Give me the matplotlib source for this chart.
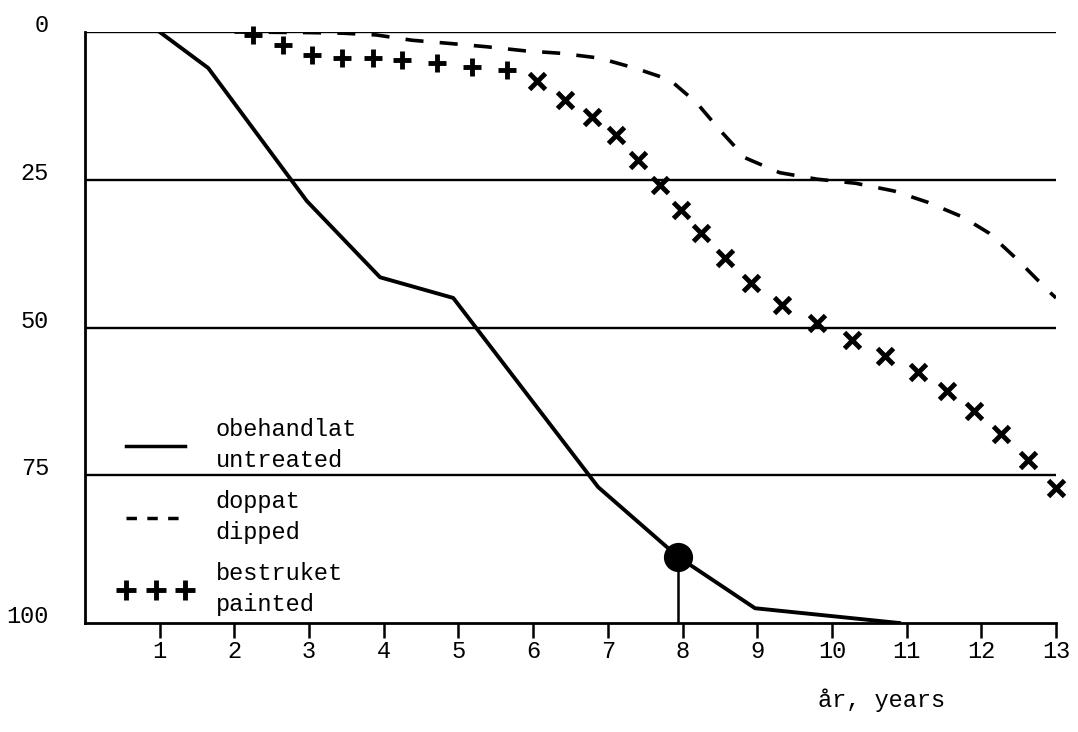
import matplotlib
matplotlib.use("Agg")
import matplotlib.pyplot as plt
from matplotlib.lines import Line2D

plt.rcParams['font.family'] = ['Liberation Mono', 'DejaVu Sans Mono']

# ---- data (years, % destroyed) ----
untreated_x = [1.0, 1.65, 2.97, 3.95, 4.93, 6.87, 7.94, 8.97, 10.9]
untreated_y = [0.0, 6.1, 28.6, 41.5, 45.0, 77.0, 88.8, 97.5, 100.0]

dipped_x = [2.0, 3.0, 3.45, 3.9, 4.38, 4.85, 5.38, 5.9, 6.37, 6.88, 7.36, 7.83,
            8.19, 8.5, 8.84, 9.3, 9.8, 10.32, 10.83, 11.28, 11.75, 12.1, 12.49, 12.89, 13.0]
dipped_y = [0.0, 0.1, 0.2, 0.5, 1.4, 1.9, 2.5, 3.2, 3.6, 4.4, 6.1, 8.1,
            12.0, 16.6, 21.3, 23.8, 24.9, 25.6, 26.9, 28.8, 31.3, 34.0, 38.6, 43.7, 45.0]

painted_plus_x = [2.25, 2.65, 3.04, 3.44, 3.86, 4.24, 4.71, 5.18, 5.65]
painted_plus_y = [0.5, 2.2, 3.9, 4.4, 4.4, 4.7, 5.3, 5.9, 6.4]
painted_x_x = [6.05, 6.42, 6.79, 7.11, 7.40, 7.70, 7.98, 8.25, 8.57, 8.91, 9.33, 9.8,
               10.27, 10.71, 11.15, 11.54, 11.9, 12.26, 12.62, 13.0]
painted_x_y = [8.3, 11.5, 14.3, 17.4, 21.7, 25.9, 30.1, 34.0, 38.3, 42.5, 46.2, 49.3,
               52.1, 54.8, 57.6, 60.7, 64.2, 68.0, 72.5, 77.2]

highlight_x = 7.94
highlight_y = 88.8

x_ticks = list(range(1, 14))
y_ticks = [0, 25, 50, 75, 100]
grid_levels = [0, 25, 50, 75]

labels = ["obehandlat\nuntreated", "doppat\ndipped", "bestruket\npainted"]
xlabel = "år, years"

# ---- figure ----
fig = plt.figure(figsize=(10.78, 7.32), dpi=100)
ax = fig.add_axes([85 / 1078, 1 - 623 / 732, (1056 - 85) / 1078, (623 - 32) / 732])
ax.set_xlim(0, 13)
ax.set_ylim(100, 0)

lw_grid = 1.7
for g in grid_levels:
    ax.axhline(g, color='black', lw=lw_grid, zorder=1)

ax.plot(untreated_x, untreated_y, color='black', lw=2.8, zorder=3)
ax.plot(dipped_x, dipped_y, color='black', lw=2.6, dashes=(5, 4.5), zorder=3)
ax.plot(painted_plus_x, painted_plus_y, ls='none', marker='+', ms=13, mew=3.5,
        color='black', zorder=4, clip_on=False)
ax.plot(painted_x_x, painted_x_y, ls='none', marker='x', ms=11, mew=3.5,
        color='black', zorder=4, clip_on=False)
ax.plot([highlight_x], [highlight_y], 'o', ms=20, color='black', zorder=5)
ax.vlines(highlight_x, highlight_y, 100, color='black', lw=1.8, zorder=4)

for s in ['top', 'right']:
    ax.spines[s].set_visible(False)
for s in ['left', 'bottom']:
    ax.spines[s].set_linewidth(2.0)

ax.set_xticks(x_ticks)
ax.set_xticklabels([str(t) for t in x_ticks], fontsize=17)
ax.tick_params(axis='x', direction='out', length=11, width=1.8, pad=1)
ax.set_yticks(y_ticks)
ax.set_yticklabels([str(t) for t in y_ticks], fontsize=17)
ax.tick_params(axis='y', length=0, pad=26)
for lab in ax.get_yticklabels():
    lab.set_va('baseline')

fig.text(882 / 1078, 1 - 700 / 732, xlabel, fontsize=17, ha='center', va='center')

handles = [
    Line2D([], [], color='black', lw=2.5),
    Line2D([], [], color='black', lw=2.5, dashes=(3, 3.0)),
    Line2D([], [], ls='none', marker='+', ms=14, mew=3.5, color='black'),
]
leg = ax.legend(handles, labels, loc='lower left', bbox_to_anchor=(0.035, 0.012),
                frameon=False, fontsize=17, numpoints=3, handlelength=3.1,
                handletextpad=1.0, labelspacing=0.75, borderpad=0, borderaxespad=0)
for t in leg.get_texts():
    t.set_linespacing(1.45)

fig.savefig('out.png', dpi=100, facecolor='white')
